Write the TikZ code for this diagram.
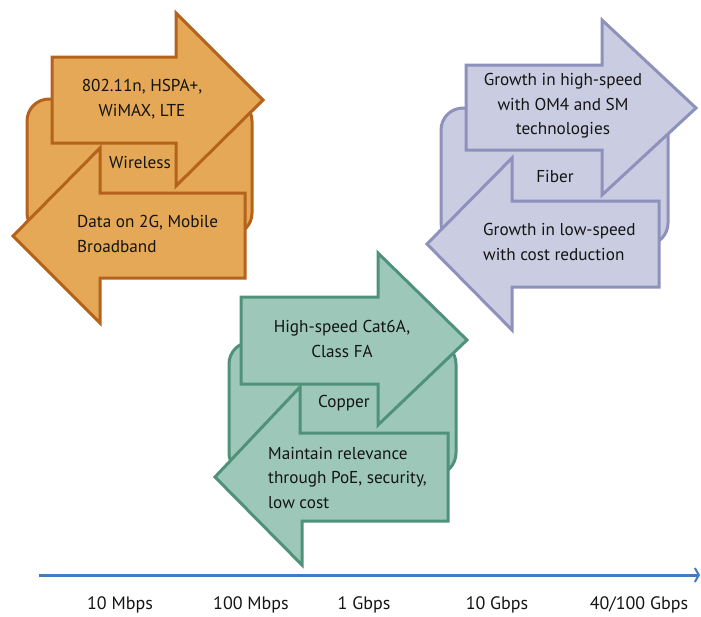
\documentclass[tikz,border=0pt]{standalone}
\usepackage{fontspec}
\setmainfont{PT Sans}
\usetikzlibrary{arrows.meta}
\definecolor{wfill}{RGB}{228,168,86}
\definecolor{wline}{RGB}{181,98,28}
\definecolor{ffill}{RGB}{202,205,225}
\definecolor{fline}{RGB}{142,145,187}
\definecolor{cfill}{RGB}{157,200,185}
\definecolor{cline}{RGB}{80,146,121}
\definecolor{axcol}{RGB}{63,125,190}
\definecolor{txt}{RGB}{20,20,20}
\tikzset{
  lbl/.style={font=\fontsize{17.2}{24.5}\selectfont, text=txt, inner sep=0pt},
  axlbl/.style={font=\fontsize{18}{22}\selectfont, text=txt, inner sep=0pt},
  wshape/.style={fill=wfill, draw=wline, line width=3pt, line join=miter},
  fshape/.style={fill=ffill, draw=fline, line width=3pt, line join=miter},
  cshape/.style={fill=cfill, draw=cline, line width=3pt, line join=miter},
  bgr/.style={rounded corners=22pt},
  axisline/.style={draw=axcol, line width=3pt, -{Straight Barb[length=4pt,width=14pt,line width=2pt]}},
}
\begin{document}
\begin{tikzpicture}[x=1pt,y=-1pt]
\useasboundingbox (0,0) rectangle (701,616);
% ---------- Wireless ----------
\draw[wshape,bgr] (27,99) rectangle (252,235);
\draw[wshape] (245,193) -- (100,193) -- (100,148) -- (13,236) -- (100,323) -- (100,278) -- (245,278) -- cycle;
\draw[wshape] (52,57) -- (176,57) -- (176,13) -- (263,100) -- (176,186) -- (176,143) -- (52,143) -- cycle;
\node[lbl,align=center] (w1) at (142,99) {802.11n, HSPA+,\\WiMAX, LTE};
\node[lbl] (w2) at (140,163) {Wireless};
\node[lbl,align=left,anchor=west] (w3) at (77,234) {Data on 2G, Mobile\\Broadband};
% ---------- Fiber ----------
\draw[fshape,bgr] (441,108) rectangle (668,245);
\draw[fshape] (659,201) -- (512,201) -- (512,158) -- (427,244) -- (512,330) -- (512,287) -- (659,287) -- cycle;
\draw[fshape] (466,65) -- (602,65) -- (602,20) -- (696,108) -- (602,195) -- (602,150) -- (466,150) -- cycle;
\node[lbl,align=center] (f1) at (563,106) {Growth in high-speed\\with OM4 and SM\\technologies};
\node[lbl] (f2) at (555,177) {Fiber};
\node[lbl,align=left,anchor=west] (f3) at (483,242) {Growth in low-speed\\with cost reduction};
% ---------- Copper ----------
\draw[cshape,bgr] (229,342) rectangle (456,475);
\draw[cshape] (448,433) -- (300,433) -- (300,387) -- (215,477) -- (302,565) -- (302,521) -- (448,521) -- cycle;
\draw[cshape] (241,297) -- (378,297) -- (378,253) -- (467,340) -- (378,425) -- (378,384) -- (241,384) -- cycle;
\node[lbl,align=center] (c1) at (342,339) {High-speed Cat6A,\\Class FA};
\node[lbl] (c2) at (344,403) {Copper};
\node[lbl,align=left,anchor=west] (c3) at (268,478) {Maintain relevance\\through PoE, security,\\low cost};
% ---------- Axis ----------
\coordinate (a0) at (39,575);
\coordinate (a1) at (700,575);
\draw[axisline] (a0) -- (a1);
\node[axlbl] (t1) at (120,605) {10 Mbps};
\node[axlbl] (t2) at (251,605) {100 Mbps};
\node[axlbl] (t3) at (364,605) {1 Gbps};
\node[axlbl] (t4) at (497,605) {10 Gbps};
\node[axlbl] (t5) at (639,605) {40/100 Gbps};
\end{tikzpicture}
\end{document}
